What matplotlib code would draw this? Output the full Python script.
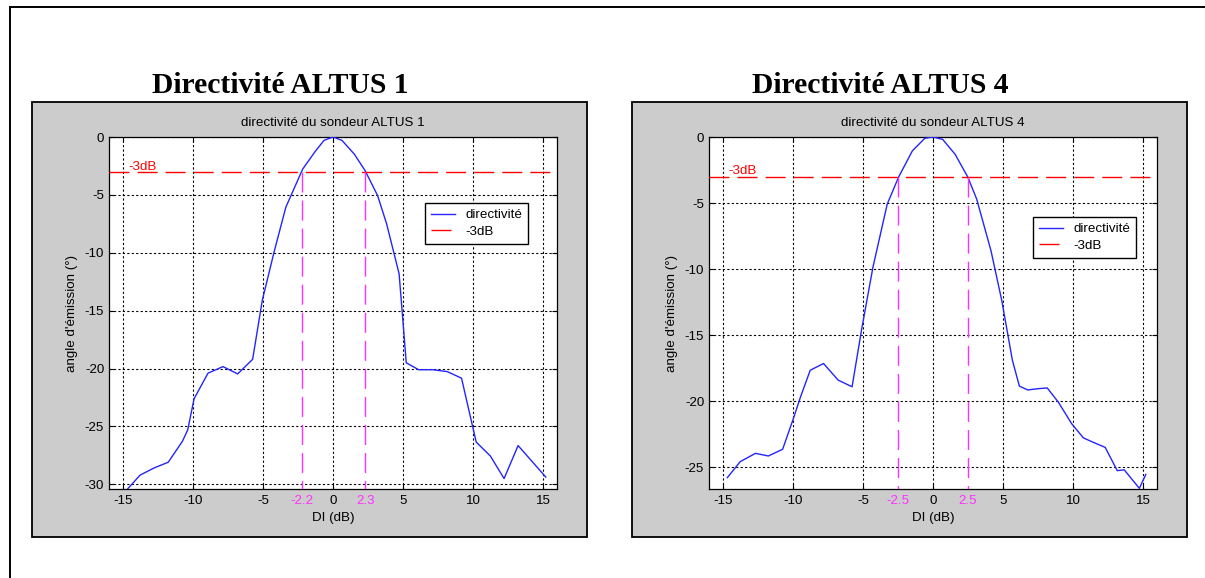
import matplotlib
matplotlib.use("Agg")
import matplotlib.pyplot as plt
from matplotlib.patches import Rectangle
from matplotlib.lines import Line2D

# Directivity curves (DI in dB vs emission angle), one per sounder
x_altus1 = [-14.75, -13.78, -12.76, -11.77, -10.75, -10.38, -9.92, -8.93, -7.86, -6.81,
            -5.74, -5.05, -4.21, -3.37, -2.17, -1.28, -0.64, 0.0, 0.64, 1.53,
            2.30, 3.19, 3.83, 4.72, 4.97, 5.23, 6.12, 7.14, 8.16, 9.18,
            10.23, 11.24, 12.22, 13.22, 15.20]
y_altus1 = [-30.50, -29.20, -28.57, -28.09, -26.27, -25.30, -22.60, -20.40, -19.83, -20.46,
            -19.20, -14.10, -9.94, -6.07, -2.78, -1.26, -0.29, 0.0, -0.29, -1.49,
            -2.92, -5.07, -7.50, -11.80, -15.50, -19.50, -20.10, -20.10, -20.26, -20.83,
            -26.35, -27.55, -29.50, -26.65, -29.37]

x_altus4 = [-14.69, -13.77, -12.68, -11.76, -10.74, -10.00, -9.46, -8.77, -7.82, -6.77,
            -5.78, -5.11, -4.29, -3.27, -2.45, -1.48, -0.59, 0.0, 0.69, 1.58,
            2.48, 3.12, 4.14, 4.91, 5.67, 6.17, 6.76, 7.55, 8.16, 8.97,
            9.90, 10.74, 11.50, 12.30, 13.16, 13.66, 14.74, 15.20]
y_altus4 = [-25.79, -24.58, -23.95, -24.15, -23.64, -21.40, -19.67, -17.66, -17.15, -18.41,
            -18.91, -14.64, -9.86, -5.08, -3.02, -1.06, -0.10, 0.0, -0.18, -1.31,
            -3.02, -4.70, -8.60, -12.37, -16.90, -18.86, -19.15, -19.05, -19.00, -20.10,
            -21.70, -22.78, -23.14, -23.50, -25.26, -25.20, -26.60, -25.55]

# -3 dB crossing points read on each curve
cuts_altus1 = [-2.2, 2.3]
cuts_altus4 = [-2.5, 2.5]
cut_labels_altus1 = ["-2.2", "2.3"]
cut_labels_altus4 = ["-2.5", "2.5"]

level_3db = -3
ylow_altus1 = -30.4
ylow_altus4 = -26.65
yticks_altus1 = [0, -5, -10, -15, -20, -25, -30]
yticks_altus4 = [0, -5, -10, -15, -20, -25]
xticks = [-15, -10, -5, 0, 5, 10, 15]

plt.rcParams["axes.unicode_minus"] = False

W, H = 1205, 578
SANS = "Liberation Sans"
SERIF = "Liberation Serif"
FS = 9.6
BLUE = "#2424ff"
RED = "#ff0000"
MAGENTA = "#ff30ff"
DASH = (0, (14.4, 5.8))


def fx(px):
    return px / W


def fy(py):
    return 1 - py / H


fig = plt.figure(figsize=(W / 100, H / 100), dpi=100)
fig.patch.set_facecolor("white")

# outer frame (left and top edges)
fig.add_artist(Line2D([fx(10), fx(10)], [fy(7), fy(578)], color="black", lw=1.4))
fig.add_artist(Line2D([fx(10), fx(1205)], [fy(7), fy(7)], color="black", lw=1.4))


def panel(x0, sup, title, xs, ys, ylow, yticks, cuts, cut_labels, leg_anchor):
    # grey figure window behind the axes
    fig.add_artist(Rectangle((fx(x0 + 32), fy(537)), (587 - 32) / W, (537 - 102) / H,
                             facecolor="#cccccc", edgecolor="black", lw=1.3,
                             transform=fig.transFigure, zorder=0))
    fig.text(fx(x0 + 280), fy(93), sup, family=SERIF, weight="bold", fontsize=21.3,
             ha="center", va="baseline")

    ax = fig.add_axes([fx(x0 + 109), fy(489), 448 / W, 352 / H])
    ax.set_facecolor("white")
    ax.plot(xs, ys, color=BLUE, lw=1.0, label="directivité", zorder=3)
    ax.axhline(level_3db, color=RED, lw=1.0, linestyle=DASH, label="-3dB", zorder=3)
    for c, lab in zip(cuts, cut_labels):
        ax.plot([c, c], [level_3db, ylow], color=MAGENTA, lw=1.0, linestyle=DASH, zorder=3)
        ax.annotate(lab, xy=(c, 0), xycoords=("data", "axes fraction"),
                    xytext=(0, -4), textcoords="offset points",
                    ha="center", va="top", color=MAGENTA, family=SANS, fontsize=FS)
    ax.text(-14.6, level_3db + 0.45, "-3dB", color=RED, family=SANS, fontsize=FS,
            ha="left", va="center")

    ax.set_xlim(-16, 16)
    ax.set_ylim(ylow, 0)
    ax.set_xticks(xticks)
    ax.set_yticks(yticks)
    ax.grid(True, color="black", linestyle=(0, (2, 2)), lw=0.8)
    ax.tick_params(direction="in", top=True, right=True, length=3.5, width=0.8,
                   labelsize=FS)
    ax.tick_params(axis="x", pad=4)
    ax.tick_params(axis="y", pad=3.5)
    for lab in ax.get_xticklabels() + ax.get_yticklabels():
        lab.set_family(SANS)
    for sp in ax.spines.values():
        sp.set_linewidth(0.9)

    ax.text(0.5, 1 + 11 / 352, title, transform=ax.transAxes, ha="center",
            va="baseline", family=SANS, fontsize=FS)
    fig.text(fx(x0 + 333), fy(518), "DI (dB)", ha="center", va="center",
             family=SANS, fontsize=FS)
    fig.text(fx(x0 + 72), fy(313), "angle d'émission (°)", ha="center", va="center",
             rotation=90, family=SANS, fontsize=FS)

    leg = ax.legend(loc="upper left", bbox_to_anchor=leg_anchor, fancybox=False,
                    framealpha=1, edgecolor="black", prop={"family": SANS, "size": FS},
                    handlelength=1.8, handletextpad=0.8, borderpad=0.45,
                    labelspacing=0.3, borderaxespad=0)
    leg.get_frame().set_linewidth(1.0)
    return ax


panel(0, "Directivité ALTUS 1", "directivité du sondeur ALTUS 1",
      x_altus1, y_altus1, ylow_altus1, yticks_altus1, cuts_altus1, cut_labels_altus1,
      (0.705, 0.8125))
panel(600, "Directivité ALTUS 4", "directivité du sondeur ALTUS 4",
      x_altus4, y_altus4, ylow_altus4, yticks_altus4, cuts_altus4, cut_labels_altus4,
      (0.723, 0.773))

fig.savefig("out.png", dpi=100, facecolor="white")
